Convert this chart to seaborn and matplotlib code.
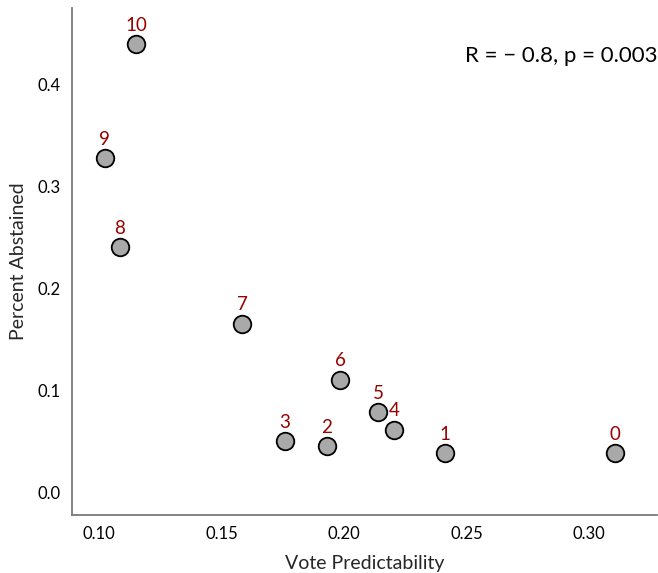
import matplotlib
matplotlib.use("Agg")
import matplotlib.pyplot as plt
import seaborn as sns
import pandas as pd

labels = ["0", "1", "2", "3", "4", "5", "6", "7", "8", "9", "10"]
vote_pred = [0.3106, 0.2412, 0.1931, 0.1759, 0.2204, 0.2139, 0.1984, 0.1584, 0.1086, 0.1024, 0.1151]
pct_abst = [0.038, 0.038, 0.045, 0.050, 0.061, 0.078, 0.110, 0.165, 0.240, 0.327, 0.439]

df = pd.DataFrame({"label": labels, "x": vote_pred, "y": pct_abst})

sns.set_style("white")
plt.rcParams["font.family"] = ["Lato", "DejaVu Sans"]

fig = plt.figure(figsize=(6.58, 5.73), dpi=100)
ax = fig.add_axes([0.1094, 0.1012, 0.8891, 0.8848])

sns.scatterplot(data=df, x="x", y="y", ax=ax, s=160, color="#a9a9a9",
                edgecolor="black", linewidth=1.3, zorder=3)

for lab, xv, yv in zip(df["label"], df["x"], df["y"]):
    ax.annotate(lab, (xv, yv), xytext=(0, 7.5), textcoords="offset points",
                ha="center", va="bottom", color="#990000", fontsize=13.5)

ax.text(1.0, 0.905, "R = \u2212 0.8, p = 0.003", transform=ax.transAxes,
        ha="right", va="center", fontsize=16, color="black")

ax.set_xlim(0.089, 0.3278)
ax.set_ylim(-0.0225, 0.4745)
ax.set_xticks([0.10, 0.15, 0.20, 0.25, 0.30])
ax.set_xticklabels(["0.10", "0.15", "0.20", "0.25", "0.30"])
ax.set_yticks([0.0, 0.1, 0.2, 0.3, 0.4])
ax.set_yticklabels(["0.0", "0.1", "0.2", "0.3", "0.4"])
ax.tick_params(axis="both", length=0, labelsize=12, pad=8, colors="black")

ax.set_xlabel("Vote Predictability", fontsize=14, labelpad=9)
ax.set_ylabel("Percent Abstained", fontsize=14, labelpad=8)

for side in ["top", "right"]:
    ax.spines[side].set_visible(False)
for side in ["left", "bottom"]:
    ax.spines[side].set_color("#7a7a7a")
    ax.spines[side].set_linewidth(1.3)

fig.savefig("out.png", dpi=100)
